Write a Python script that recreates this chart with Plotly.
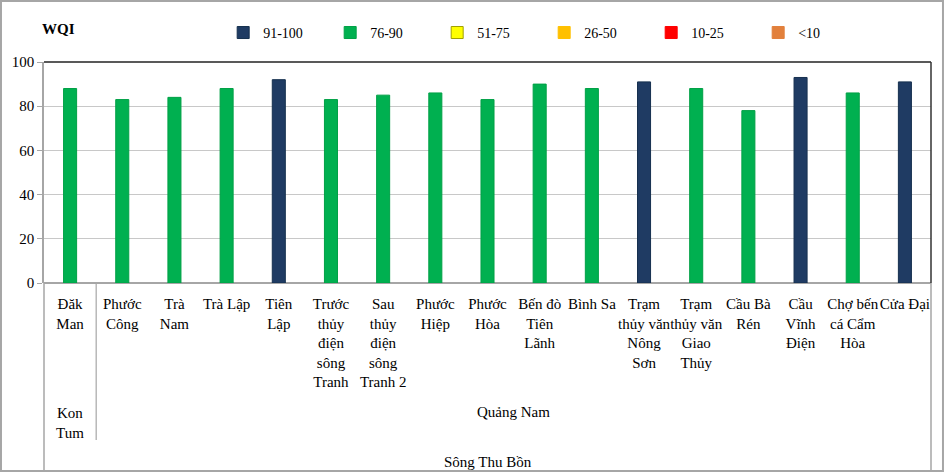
import plotly.graph_objects as go

stations = ["Đăk Man", "Phước Công", "Trà Nam", "Trà Lập", "Tiên Lập",
            "Trước thủy điện sông Tranh", "Sau thủy điện sông Tranh 2",
            "Phước Hiệp", "Phước Hòa", "Bến đò Tiên Lãnh", "Bình Sa",
            "Trạm thủy văn Nông Sơn", "Trạm thủy văn Giao Thủy", "Cầu Bà Rén",
            "Cầu Vĩnh Điện", "Chợ bến cá Cẩm Hòa", "Cửa Đại"]
tick_labels = ["Đăk<br>Man", "Phước<br>Công", "Trà<br>Nam", "Trà Lập", "Tiên<br>Lập",
               "Trước<br>thủy<br>điện<br>sông<br>Tranh", "Sau<br>thủy<br>điện<br>sông<br>Tranh 2",
               "Phước<br>Hiệp", "Phước<br>Hòa", "Bến đò<br>Tiên<br>Lãnh", "Bình Sa",
               "Trạm<br>thủy văn<br>Nông<br>Sơn", "Trạm<br>thủy văn<br>Giao<br>Thủy", "Cầu Bà<br>Rén",
               "Cầu<br>Vĩnh<br>Điện", "Chợ bến<br>cá Cẩm<br>Hòa", "Cửa Đại"]
wqi = [88, 83, 84, 88, 92, 83, 85, 86, 83, 90, 88, 91, 88, 78, 93, 86, 91]
provinces = ["Kon<br>Tum", "Quảng Nam"]
river = "Sông Thu Bồn"
classes = ["91-100", "76-90", "51-75", "26-50", "10-25", "<10"]
class_min = [91, 76, 51, 26, 10, 0]
class_colors = ["#1F3B63", "#00B050", "#FFFF00", "#FFC000", "#FF0000", "#E2803C"]
class_lines = ["#16304F", "#00A046", "#A0A000", "#FFC000", "#FF0000", "#E2803C"]

FONT = "Liberation Serif"

def cls(v):
    for i, m in enumerate(class_min):
        if v >= m:
            return i
    return len(class_min) - 1

fig = go.Figure()
for i, name in enumerate(classes):
    ys = [v if cls(v) == i else None for v in wqi]
    has = any(y is not None for y in ys)
    fig.add_trace(go.Bar(
        x=stations if has else [None], y=ys if has else [None], name=name,
        marker=dict(color=class_colors[i], line=dict(color=class_lines[i], width=1)),
        width=0.25, showlegend=True))

shapes = []
gray = "#A6A6A6"
shapes.append(dict(type="line", xref="paper", yref="paper", x0=0, x1=1, y0=1, y1=1,
                   line=dict(color="#222222", width=1.5)))
shapes.append(dict(type="line", xref="paper", yref="paper", x0=1, x1=1, y0=1, y1=0,
                   line=dict(color="#333333", width=1.5)))
shapes.append(dict(type="line", xref="paper", yref="paper", x0=1, x1=1, y0=0, y1=-0.851,
                   line=dict(color=gray, width=1.5)))
shapes.append(dict(type="line", xref="paper", yref="paper", x0=0, x1=0, y0=0, y1=-0.851,
                   line=dict(color=gray, width=1.5)))
shapes.append(dict(type="line", xref="x", yref="paper", x0=0.5, x1=0.5, y0=0, y1=-0.71,
                   line=dict(color=gray, width=1.2)))
shapes.append(dict(type="rect", xref="paper", yref="paper", x0=-0.0485, x1=1.0135,
                   y0=-0.851, y1=1.276, line=dict(color=gray, width=2)))

annotations = [
    dict(text="<b>WQI</b>", xref="paper", yref="paper", x=-0.004, y=1.149, xanchor="left",
         yanchor="middle", showarrow=False, font=dict(family=FONT, size=15, color="#000")),
    dict(text=provinces[0], xref="x", yref="paper", x=0, y=-0.633, yanchor="middle",
         showarrow=False, font=dict(family=FONT, size=15, color="#000")),
    dict(text=provinces[1], xref="x", yref="paper", x=8.5, y=-0.584, yanchor="middle",
         showarrow=False, font=dict(family=FONT, size=15, color="#000")),
    dict(text=river, xref="paper", yref="paper", x=0.5, y=-0.81, yanchor="middle",
         showarrow=False, font=dict(family=FONT, size=15, color="#000")),
]

fig.update_layout(
    width=945, height=473,
    margin=dict(l=44, r=14, t=62, b=190),
    paper_bgcolor="white", plot_bgcolor="white",
    barmode="overlay",
    font=dict(family=FONT, size=15, color="#000"),
    legend=dict(orientation="h", x=0.202, y=1.204, xanchor="left", yanchor="top",
                entrywidth=62, entrywidthmode="pixels", font=dict(family=FONT, size=14),
                itemwidth=30, bgcolor="rgba(0,0,0,0)", traceorder="normal"),
    xaxis=dict(tickvals=stations, ticktext=tick_labels, showgrid=False, showline=False,
               ticks="", tickangle=0, ticklabelstandoff=10, automargin=False,
               tickfont=dict(family=FONT, size=15), zeroline=False,
               range=[-0.5, len(stations) - 0.5], fixedrange=True),
    yaxis=dict(range=[0, 100], dtick=20, showgrid=True, gridcolor="#C8C8C8", gridwidth=1,
               showline=True, linecolor=gray, linewidth=1.5, ticks="outside", ticklen=5,
               tickcolor=gray, tickfont=dict(family=FONT, size=15), zeroline=True,
               zerolinecolor=gray, zerolinewidth=1.5, automargin=False),
    shapes=shapes, annotations=annotations,
)
fig.write_html("out.html", config={"displayModeBar": False},
               post_script="document.body.style.margin='0';")
